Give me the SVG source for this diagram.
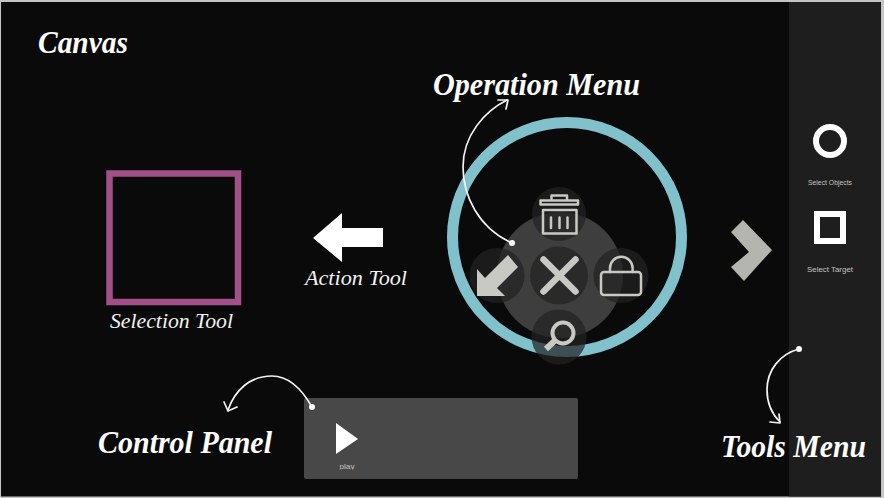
<svg xmlns="http://www.w3.org/2000/svg" width="884" height="498" viewBox="0 0 884 498">
<style>
.h{font-family:"Liberation Serif",serif;font-style:italic;font-weight:bold;fill:#fff;font-size:31px}
.s{font-family:"Liberation Serif",serif;font-style:italic;fill:#f2f2f2;font-size:22px}
.l{font-family:"Liberation Sans",Arial,sans-serif;fill:#c4c4c4;font-size:7.500px}
.btn{fill:#222;fill-opacity:.72}
.ico{fill:none;stroke:#c9c9c4;stroke-width:2.5;stroke-linecap:round;stroke-linejoin:round}
.fillico{fill:#c9c9c4}
.c{fill:none;stroke:#f4f4f4;stroke-width:1.7;stroke-linecap:round;stroke-linejoin:round}
.d{fill:#fff}
</style>
<defs><clipPath id="playclip"><rect x="330" y="460" width="34" height="9.6"/></clipPath></defs>
<rect width="884" height="498" fill="#c4c4c4"/>
<rect x="1" y="2" width="880" height="494.500" fill="#0a0a0a"/>
<rect x="789" y="2" width="92" height="494.500" fill="#1e1e1e"/>
<text class="h" x="38" y="53" textLength="90" lengthAdjust="spacingAndGlyphs">Canvas</text>
<g id="operation-menu">
<circle cx="567" cy="237" r="114.500" fill="none" stroke="#80c1cc" stroke-width="11"/>
<circle cx="560" cy="275" r="63" fill="#3e3e3e"/>
<text class="h" x="433" y="95" textLength="207" lengthAdjust="spacingAndGlyphs">Operation Menu</text>
<g id="op-delete"><circle class="btn" cx="559" cy="214" r="27"/>
<path class="ico" d="M540.500 200.500H578V204.500H540.500ZM551.500 200V195.500H567V200M543 210H576.500V233.500H543Z"/>
<path class="ico" d="M551 217.500V228M559.500 217.500V228M567.500 217.500V228"/></g>
<g id="op-close"><circle class="btn" cx="559" cy="275.500" r="29"/>
<path d="M543.500 259.500L575.500 291.500M575.500 259.500L543.500 291.500" fill="none" stroke="#c9c9c4" stroke-width="6.500" stroke-linecap="round"/></g>
<g id="op-move"><circle class="btn" cx="497" cy="275.500" r="27.500"/>
<polygon class="fillico" points="477,296 477,269 485,278 508,255 518,267 497,288 505,296"/></g>
<g id="op-lock"><circle class="btn" cx="621" cy="275.500" r="27.500"/>
<rect class="ico" x="601" y="272" width="40" height="23" rx="3"/>
<path class="ico" d="M610 272V268A11.300 11.300 0 0 1 632.600 268V272"/></g>
<g id="op-search"><circle class="btn" cx="559" cy="337" r="27.500"/>
<circle cx="563" cy="333" r="10.500" fill="none" stroke="#c9c9c4" stroke-width="4"/>
<path d="M555.500 340L546 349" fill="none" stroke="#c9c9c4" stroke-width="6"/></g>
</g>
<g id="selection-tool">
<rect x="109.500" y="173.500" width="128.500" height="128.500" fill="none" stroke="#a2508a" stroke-width="6.500"/>
<text class="s" x="110" y="328" textLength="123" lengthAdjust="spacingAndGlyphs">Selection Tool</text>
</g>
<g id="action-tool">
<polygon points="313,238 342,213 342,228 383,228 383,247 342,247 342,262" fill="#fff"/>
<text class="s" x="305" y="285" textLength="102" lengthAdjust="spacingAndGlyphs">Action Tool</text>
</g>
<polygon id="chevron" points="743,220 772,250 744,281 731,267 749,252 731,232" fill="#b4b5ae"/>
<g id="tools-menu">
<circle cx="830" cy="141" r="14" fill="none" stroke="#fff" stroke-width="6"/>
<text class="l" x="808" y="185" textLength="44" lengthAdjust="spacingAndGlyphs">Select Objects</text>
<rect x="817" y="214" width="26" height="27" fill="none" stroke="#fff" stroke-width="6"/>
<text class="l" x="807" y="272" textLength="46" lengthAdjust="spacingAndGlyphs">Select Target</text>
<text class="h" x="721" y="457" textLength="145" lengthAdjust="spacingAndGlyphs">Tools Menu</text>
</g>
<g id="control-panel">
<rect x="304" y="398" width="274" height="81" rx="2" fill="#484848"/>
<polygon points="336,423 358,439 336,454" fill="#fff"/>
<text class="l" x="339.500" y="469" clip-path="url(#playclip)" textLength="15" lengthAdjust="spacingAndGlyphs">play</text>
<text class="h" x="98" y="453" textLength="174" lengthAdjust="spacingAndGlyphs">Control Panel</text>
</g>
<g id="connectors">
<path class="c" d="M512 243C478 228 463 195 463 167C463 135 485 111 507 100"/>
<path class="c" d="M498 100L508 100L506 109"/>
<circle class="d" cx="512" cy="243" r="3"/>
<path class="c" d="M312 407C300 386 287 376 272 376C250 376 235 390 228 410"/>
<path class="c" d="M224 402L228 411L237 407"/>
<circle class="d" cx="312" cy="407" r="3"/>
<path class="c" d="M799 349C780 354 767 370 767 390C767 402 772 414 780 422"/>
<path class="c" d="M770 422L780 423L779 414"/>
<circle class="d" cx="799" cy="349" r="3"/>
</g>
</svg>
